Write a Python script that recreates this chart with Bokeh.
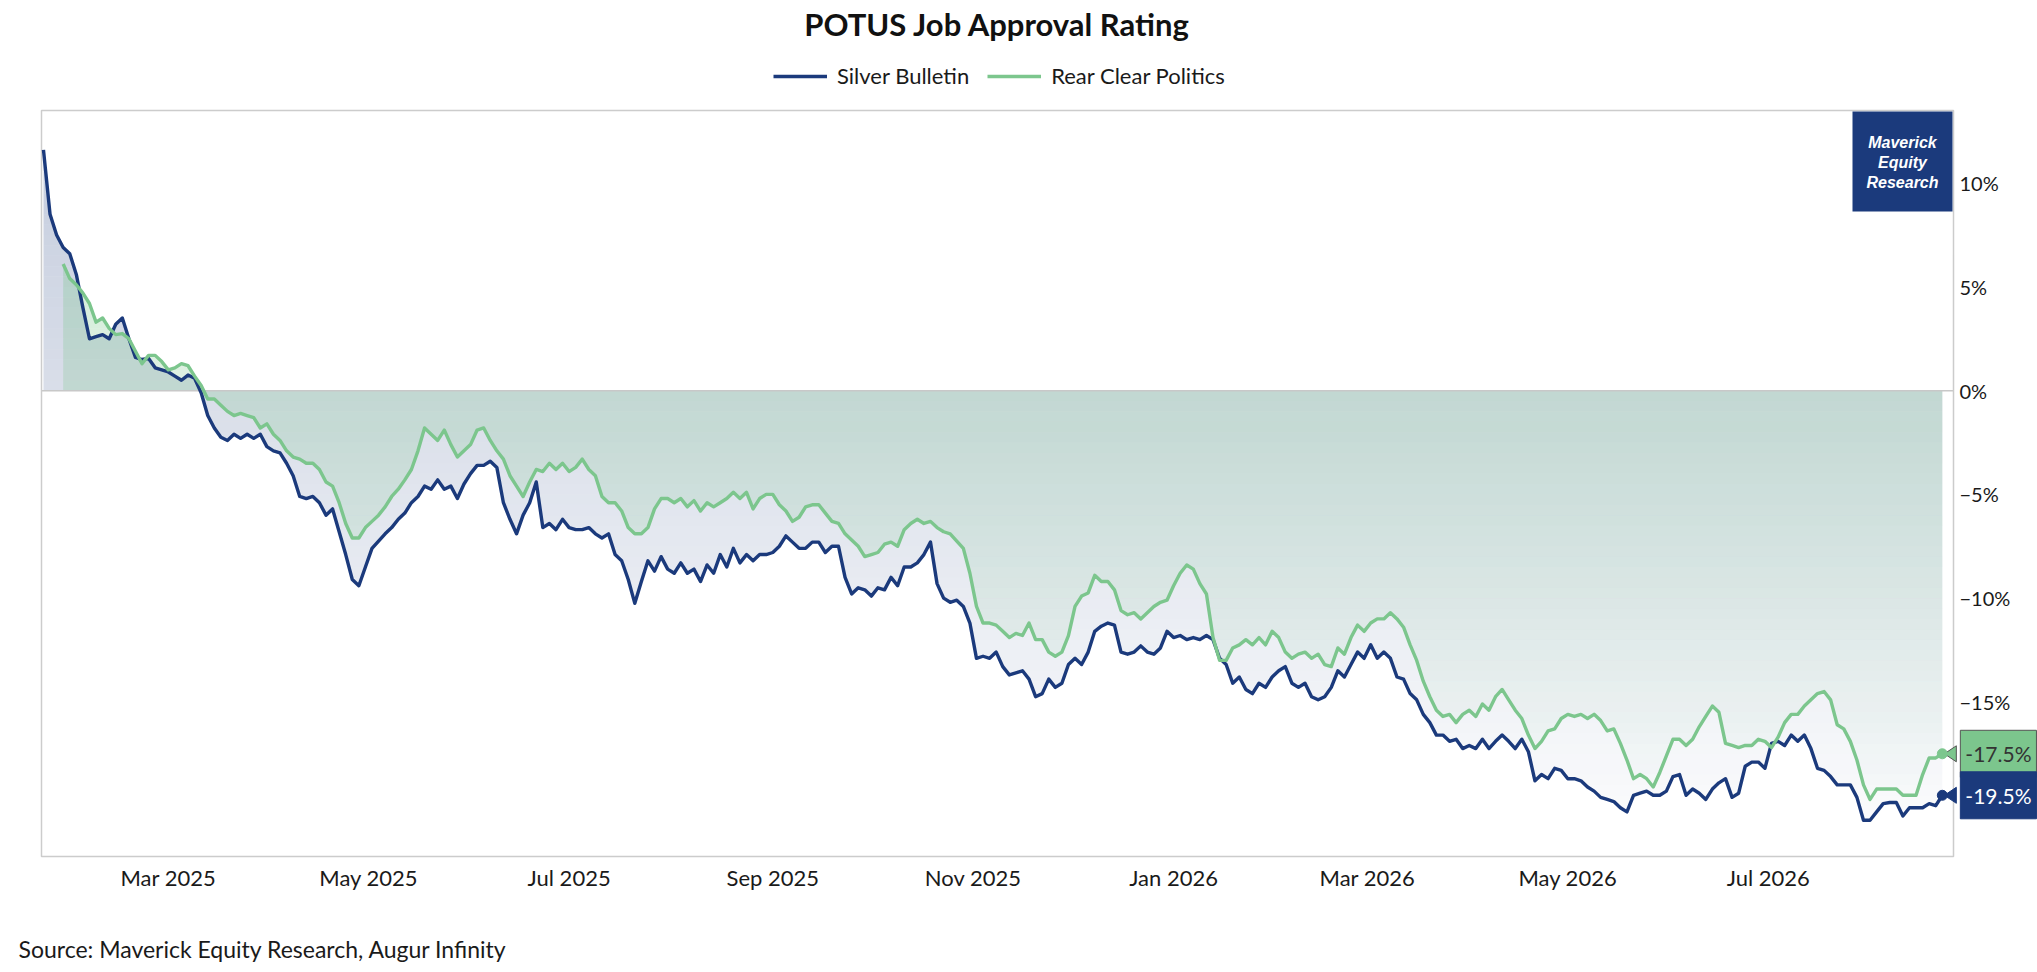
import numpy as np
import pandas as pd
from bokeh.plotting import figure
from bokeh.models import (Range1d, FixedTicker, DatetimeTickFormatter, CustomJSTickFormatter,
                          Legend, LegendItem, Label)
from bokeh.embed import file_html
from bokeh.resources import INLINE

# ---------------- data ----------------
TITLE = "POTUS Job Approval Rating"
SOURCE = "Source: Maverick Equity Research, Augur Infinity"
SERIES_NAMES = ["Silver Bulletin", "Rear Clear Politics"]
LOGO_TEXT = "Maverick\nEquity\nResearch"
START_DATE = "2025-01-22"
STEP = "2D"

silver_bulletin = [
    11.6, 8.5, 7.5, 6.9, 6.6, 5.6, 4.0, 2.5, 2.6, 2.7,
    2.5, 3.2, 3.5, 2.5, 1.6, 1.5, 1.55, 1.1, 1.0, 0.9,
    0.7, 0.5, 0.75, 0.6, -0.1, -1.2, -1.8, -2.25, -2.4, -2.1,
    -2.3, -2.1, -2.3, -2.1, -2.7, -2.9, -3.0, -3.5, -4.1, -5.1,
    -5.2, -5.1, -5.4, -6.0, -5.7, -6.8, -7.9, -9.1, -9.4, -8.5,
    -7.6, -7.25, -6.9, -6.6, -6.2, -5.9, -5.4, -5.1, -4.6, -4.75,
    -4.3, -4.75, -4.6, -5.2, -4.5, -4.0, -3.6, -3.6, -3.4, -3.7,
    -5.4, -6.2, -6.9, -6.0, -5.4, -4.4, -6.6, -6.4, -6.7, -6.2,
    -6.6, -6.7, -6.7, -6.6, -6.9, -7.1, -6.9, -7.9, -8.2, -9.1,
    -10.25, -9.2, -8.2, -8.7, -8.0, -8.6, -8.8, -8.3, -8.8, -8.6,
    -9.2, -8.4, -8.8, -7.9, -8.5, -7.6, -8.3, -7.9, -8.2, -7.9,
    -7.9, -7.8, -7.5, -7.0, -7.3, -7.6, -7.6, -7.3, -7.3, -7.8,
    -7.5, -7.5, -9.0, -9.8, -9.5, -9.6, -9.9, -9.5, -9.6, -9.0,
    -9.4, -8.5, -8.5, -8.3, -7.9, -7.3, -9.3, -10.0, -10.2, -10.1,
    -10.4, -11.2, -12.9, -12.8, -12.9, -12.6, -13.3, -13.7, -13.6,
    -13.5, -13.9, -14.75, -14.6, -13.9, -14.3, -14.1, -13.2, -12.9, -13.2,
    -12.6, -11.6, -11.35, -11.2, -11.3, -12.6, -12.7, -12.6, -12.3, -12.6,
    -12.7, -12.4, -11.6, -11.9, -11.8, -12.0, -11.9, -12.0, -11.8, -12.0,
    -12.9, -13.2, -14.1, -13.8, -14.4, -14.6, -14.1, -14.3, -13.8, -13.5,
    -13.3, -14.1, -14.3, -14.1, -14.75, -14.9, -14.75, -14.3, -13.5, -13.8,
    -13.2, -12.6, -12.9, -12.25, -12.9, -12.6, -12.9, -13.8, -13.9, -14.6,
    -14.9, -15.6, -16.0, -16.6, -16.6, -16.9, -16.8, -17.25, -17.1, -17.25,
    -16.8, -17.25, -16.9, -16.6, -16.9, -17.25, -16.8, -17.4, -18.8, -18.5,
    -18.7, -18.2, -18.3, -18.7, -18.7, -18.8, -19.1, -19.3, -19.6, -19.7,
    -19.8, -20.1, -20.3, -19.5, -19.4, -19.3, -19.5, -19.5, -19.3,
    -18.6, -18.5, -19.5, -19.2, -19.4, -19.7, -19.2, -18.9, -18.7, -19.6,
    -19.4, -18.1, -17.9, -17.9, -18.2, -17.0, -16.9, -17.1, -16.6, -16.9,
    -16.6, -17.25, -18.2, -18.3, -18.6, -19.0, -19.0, -19.0, -19.6, -20.7,
    -20.7, -20.3, -19.9, -19.85, -19.85, -20.5, -20.1, -20.1, -20.1, -19.9,
    -20.0, -19.5,
]

real_clear_politics = [
    6.1, 5.4, 5.1, 4.7, 4.2, 3.3, 3.5, 3.0, 2.7, 2.75,
    2.5, 1.9, 1.3, 1.7, 1.7, 1.4, 1.0, 1.1, 1.3, 1.2,
    0.7, 0.25, -0.4, -0.4, -0.7, -1.0, -1.2, -1.1, -1.2, -1.3,
    -1.8, -1.6, -2.1, -2.4, -2.9, -3.2, -3.3, -3.5, -3.5, -3.8,
    -4.4, -4.6, -5.4, -6.4, -7.1, -7.1, -6.6, -6.3, -6.0, -5.6,
    -5.1, -4.75, -4.3, -3.8, -2.9, -1.8, -2.1, -2.4, -1.9, -2.6,
    -3.2, -2.9, -2.6, -1.9, -1.8, -2.4, -2.9, -3.3, -4.1, -4.6,
    -5.1, -4.4, -3.8, -3.9, -3.5, -3.8, -3.5, -3.9, -3.7, -3.3,
    -3.8, -4.1, -5.1, -5.4, -5.4, -5.8, -6.6, -6.9, -6.9, -6.6,
    -5.7, -5.2, -5.2, -5.4, -5.2, -5.6, -5.3, -5.8, -5.4, -5.6,
    -5.4, -5.2, -4.9, -5.2, -4.9, -5.7, -5.2, -5.0, -5.0, -5.5,
    -5.8, -6.3, -6.1, -5.6, -5.5, -5.5, -5.9, -6.3, -6.4, -6.9,
    -7.2, -7.5, -8.0, -7.9, -7.8, -7.4, -7.3, -7.5, -6.7, -6.4,
    -6.2, -6.4, -6.3, -6.6, -6.8, -6.9, -7.25, -7.6, -8.8, -10.4,
    -11.2, -11.2, -11.3, -11.6, -11.9, -11.7, -11.8, -11.2, -12.0,
    -12.0, -12.6, -12.8, -12.6, -11.8, -10.4, -9.9, -9.75, -8.9, -9.2,
    -9.2, -9.6, -10.6, -10.8, -10.7, -11.0, -10.7, -10.4, -10.2, -10.1,
    -9.4, -8.8, -8.4, -8.6, -9.3, -9.8, -11.9, -13.0, -13.0, -12.4,
    -12.25, -12.0, -12.25, -11.9, -12.25, -11.6, -11.9, -12.6, -12.9, -12.7,
    -12.6, -12.9, -12.7, -13.2, -13.3, -12.4, -12.7, -11.9, -11.3, -11.6,
    -11.2, -11.0, -11.0, -10.7, -11.0, -11.4, -12.25, -13.0, -14.0, -14.75,
    -15.4, -15.7, -15.6, -16.0, -15.6, -15.4, -15.7, -15.1, -15.4, -14.75,
    -14.4, -14.9, -15.4, -15.8, -16.6, -17.25, -16.9, -16.4, -16.3, -15.8,
    -15.6, -15.7, -15.6, -15.8, -15.6, -15.9, -16.4, -16.3, -17.0, -17.8,
    -18.7, -18.5, -18.7, -19.1, -18.4, -17.6, -16.8, -16.8, -17.1,
    -16.8, -16.2, -15.7, -15.2, -15.5, -17.0, -17.1, -17.2, -17.1, -17.1,
    -16.8, -16.9, -17.2, -16.7, -16.0, -15.6, -15.6, -15.2, -14.9, -14.6,
    -14.5, -14.9, -16.1, -16.3, -16.9, -17.8, -19.0, -19.7, -19.2, -19.2,
    -19.2, -19.2, -19.5, -19.5, -19.5, -18.5, -17.7, -17.7, -17.5,
]

x_tick_dates = ["2025-03-01", "2025-05-01", "2025-07-01", "2025-09-01", "2025-11-01",
                "2026-01-01", "2026-03-01", "2026-05-01", "2026-07-01"]
y_ticks = [-15, -10, -5, 0, 5, 10]
Y_MIN, Y_MAX = -22.45, 13.5

# ---------------- styles / layout ----------------
NAVY = "#1b3a7c"
GREEN = "#7cc68d"
FONT = "Lato"
TEXT = "#1a1a1a"
DAY = 86400000.0
W, H = 2037, 972
BOX_L, BOX_R, BOX_T, BOX_B = 41, 1953, 110, 856   # visible plot box, canvas px

def to_ms(idx):
    return (pd.DatetimeIndex(idx).asi8 // 10**6).astype(float)

sb_dates = pd.date_range(START_DATE, periods=len(silver_bulletin), freq=STEP)
rcp_dates = sb_dates[len(silver_bulletin) - len(real_clear_politics):]
sb_x = to_ms(sb_dates)
rcp_x = to_ms(rcp_dates)
sb_y = np.array(silver_bulletin, dtype=float)
rcp_y = np.array(real_clear_politics, dtype=float)

x_lo = sb_x[0] - 0.6 * DAY
x_hi = sb_x[-1] + 3.4 * DAY
ms_per_px = (x_hi - x_lo) / (BOX_R - BOX_L)
u_per_px = (Y_MAX - Y_MIN) / (BOX_B - BOX_T)

def px_x(px):
    return x_lo + (px - BOX_L) * ms_per_px

def px_y(py):
    return Y_MAX - (py - BOX_T) * u_per_px

p = figure(width=W, height=H, x_axis_type="datetime", y_axis_location="right",
           x_range=Range1d(px_x(0), px_x(W)), y_range=Range1d(px_y(H), px_y(0)),
           toolbar_location=None, output_backend="svg", title=None,
           min_border=0, min_border_left=0, min_border_right=0,
           min_border_top=0, min_border_bottom=0)
p.background_fill_color = "white"
p.border_fill_color = "white"
p.outline_line_color = None
p.xgrid.visible = False
p.ygrid.visible = False

# ---------- gradient areas (banded) ----------
edges = np.arange(-24.0, 14.01, 0.5)

def refine(x, y):
    xs, ys = [x[0]], [y[0]]
    for i in range(len(x) - 1):
        y0, y1 = y[i], y[i + 1]
        if y1 != y0:
            lo, hi = min(y0, y1), max(y0, y1)
            c = edges[(edges > lo) & (edges < hi)]
            t = np.sort((c - y0) / (y1 - y0))
            xs.extend(list(x[i] + t * (x[i + 1] - x[i])))
            ys.extend(list(y0 + t * (y1 - y0)))
        xs.append(x[i + 1])
        ys.append(y1)
    return np.array(xs), np.array(ys)

def gradient_area(x, y, color, a_top, a_bot):
    rx, ry = refine(x, y)
    top, bot = max(ry.max(), 0.0), min(ry.min(), 0.0)
    for lo, hi in zip(edges[:-1], edges[1:]):
        if hi <= bot or lo >= top:
            continue
        y2 = np.clip(ry, lo, hi)
        y1 = np.full_like(ry, min(max(0.0, lo), hi))
        if np.allclose(y1, y2):
            continue
        frac = min(max(((lo + hi) / 2 - bot) / (top - bot), 0.0), 1.0)
        alpha = float(min(max(a_bot + (a_top - a_bot) * frac, 0.0), 1.0))
        p.varea(x=rx, y1=y1, y2=y2, fill_color=color, fill_alpha=alpha)

gradient_area(sb_x, sb_y, NAVY, 0.25, 0.02)
gradient_area(rcp_x, rcp_y, GREEN, 0.32, 0.01)

# zero line and plot box
p.segment(x0=[x_lo], x1=[x_hi], y0=[0], y1=[0], line_color="#c8c8c8", line_width=1.5)
p.quad(left=[x_lo], right=[x_hi], bottom=[Y_MIN], top=[Y_MAX], fill_color=None,
       line_color="#cccccc", line_width=1.5)

sb_line = p.line(sb_x, sb_y, line_color=NAVY, line_width=3.4, line_join="round")
rcp_line = p.line(rcp_x, rcp_y, line_color=GREEN, line_width=3.4, line_join="round")

# ---------- end markers and callouts ----------
callouts = [
    (rcp_x[-1], rcp_y[-1], GREEN, "#333333", "#555555"),
    (sb_x[-1], sb_y[-1], NAVY, "white", NAVY),
]
for lx, ly, fill, tcol, bcol in callouts:
    p.patch([lx + 2 * ms_per_px, lx + 14 * ms_per_px, lx + 14 * ms_per_px],
            [ly, ly + 8 * u_per_px, ly - 8 * u_per_px],
            fill_color=fill, line_color=bcol, line_width=1)
    p.scatter([lx], [ly], size=10, fill_color=fill, line_color=fill)
    p.add_layout(Label(x=lx, y=ly, text=f"{ly:.1f}%", x_offset=18, text_align="left",
                       text_baseline="middle", text_font=FONT, text_font_size="21px",
                       text_color=tcol, background_fill_color=fill, background_fill_alpha=1.0,
                       border_line_color=bcol, border_line_width=1, padding=(5, 11)))

# ---------- logo ----------
p.quad(left=[px_x(1852)], right=[px_x(1952)], top=[px_y(111)], bottom=[px_y(211)],
       fill_color=NAVY, line_color=None)
p.add_layout(Label(x=px_x(1902), y=px_y(162), text=LOGO_TEXT,
                   text_align="center", text_baseline="middle", text_color="white",
                   text_font="Liberation Sans", text_font_style="bold italic",
                   text_font_size="16px", text_line_height=1.2))

# ---------- axes ----------
p.xaxis.fixed_location = Y_MIN
p.xaxis.ticker = FixedTicker(ticks=list(to_ms(pd.to_datetime(x_tick_dates))))
p.xaxis.formatter = DatetimeTickFormatter(days="%b %Y", months="%b %Y", years="%b %Y")
p.xaxis.axis_line_color = None
p.xaxis.major_tick_line_color = None
p.xaxis.minor_tick_line_color = None
p.xaxis.major_label_text_font = FONT
p.xaxis.major_label_text_font_size = "22px"
p.xaxis.major_label_text_color = TEXT
p.xaxis.major_label_standoff = 1

p.yaxis.fixed_location = x_hi
p.yaxis.ticker = FixedTicker(ticks=y_ticks)
p.yaxis.formatter = CustomJSTickFormatter(code="return (tick < 0 ? '\u2212' + Math.abs(tick) : tick) + '%';")
p.yaxis.axis_line_color = None
p.yaxis.major_tick_line_color = None
p.yaxis.minor_tick_line_color = None
p.yaxis.major_label_text_font = FONT
p.yaxis.major_label_text_font_size = "20px"
p.yaxis.major_label_text_color = TEXT
p.yaxis.major_label_standoff = 0

# ---------- title / legend / source ----------
p.add_layout(Label(x=px_x(997), y=px_y(23), text=TITLE, text_align="center",
                   text_baseline="middle", text_font=FONT, text_font_size="31px",
                   text_font_style="bold", text_color="#111111"))

legend = Legend(items=[LegendItem(label=SERIES_NAMES[0], renderers=[sb_line]),
                       LegendItem(label=SERIES_NAMES[1], renderers=[rcp_line])],
                orientation="horizontal", location=(773, H - 77 - 12),
                label_text_font=FONT, label_text_font_size="22px", label_text_color=TEXT,
                glyph_width=54, glyph_height=20, label_height=20, label_standoff=10, spacing=18,
                padding=0, margin=0, border_line_color=None, background_fill_alpha=0)
p.add_layout(legend)

p.add_layout(Label(x=px_x(18), y=px_y(948), text=SOURCE, text_align="left",
                   text_baseline="middle", text_font=FONT, text_font_size="23px",
                   text_color=TEXT))

open("out.html", "w").write(file_html(p, INLINE))
